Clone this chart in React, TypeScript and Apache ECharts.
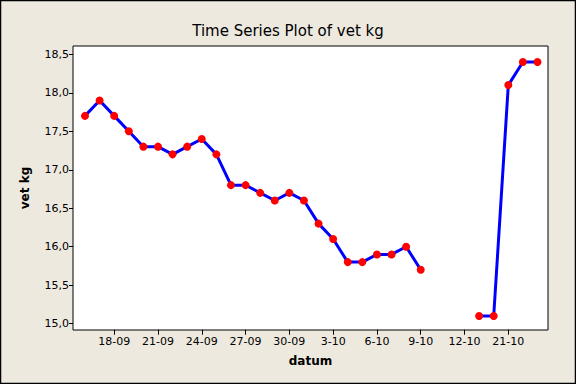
import React, { useEffect, useRef } from "react";
import * as echarts from "echarts";

const dates = [
  "16-09", "17-09", "18-09", "19-09", "20-09", "21-09", "22-09", "23-09",
  "24-09", "25-09", "26-09", "27-09", "28-09", "29-09", "30-09", "1-10",
  "2-10", "3-10", "4-10", "5-10", "6-10", "7-10", "8-10", "9-10",
  "10-10", "11-10", "12-10", "19-10", "20-10", "21-10", "22-10", "23-10",
];

const vetKg: (number | null)[] = [
  17.7, 17.9, 17.7, 17.5, 17.3, 17.3, 17.2, 17.3,
  17.4, 17.2, 16.8, 16.8, 16.7, 16.6, 16.7, 16.6,
  16.3, 16.1, 15.8, 15.8, 15.9, 15.9, 16.0, 15.7,
  null, null, null, 15.1, 15.1, 18.1, 18.4, 18.4,
];

const yMin = 15;
const yMax = 18.5;
const yStep = 0.5;

const titleText = "Time Series Plot of vet kg";
const xName = "datum";
const yName = "vet kg";

const FONT = "DejaVu Sans";

export default function App() {
  const ref = useRef<HTMLDivElement>(null);

  useEffect(() => {
    if (!ref.current) return;
    const chart = echarts.init(ref.current, undefined, { renderer: "svg" });
    const showIdx = (i: number) => i >= 2 && (i - 2) % 3 === 0;
    chart.setOption({
      animation: false,
      backgroundColor: "#EDE9DF",
      title: {
        text: titleText,
        left: "center",
        top: 18,
        textStyle: { fontFamily: FONT, fontSize: 15, fontWeight: "normal", color: "#000" },
      },
      grid: [
        {
          left: 73, top: 46, width: 475, height: 284,
          show: true, backgroundColor: "#FFFFFF", borderColor: "#000", borderWidth: 1,
        },
        { left: 85, right: 38.5, top: 54.3, bottom: 60.3 },
      ],
      xAxis: [
        { gridIndex: 0, type: "value", show: false, min: 0, max: 1 },
        {
          gridIndex: 1,
          type: "category",
          data: dates,
          boundaryGap: false,
          offset: 6,
          axisLine: { show: false },
          axisTick: { show: true, length: 5, interval: (i: number) => showIdx(i), lineStyle: { color: "#000" } },
          axisLabel: {
            interval: (i: number) => showIdx(i),
            fontFamily: FONT, fontSize: 11, color: "#000", margin: 6,
          },
          splitLine: { show: false },
        },
      ],
      yAxis: [
        { gridIndex: 0, type: "value", show: false, min: 0, max: 1 },
        {
          gridIndex: 1,
          type: "value",
          min: yMin,
          max: yMax,
          interval: yStep,
          offset: 12,
          axisLine: { show: false },
          axisTick: { show: true, length: 4, lineStyle: { color: "#000" } },
          axisLabel: {
            fontFamily: FONT, fontSize: 11, color: "#000", margin: 4,
            formatter: (v: number) => v.toFixed(1).replace(".", ","),
          },
          splitLine: { show: false },
        },
      ],
      graphic: [
        {
          type: "rect",
          shape: { x: 0.5, y: 0.5, width: 575, height: 383 },
          style: { fill: "none", stroke: "#000", lineWidth: 1.5 },
          silent: true,
        },
        {
          type: "text",
          x: 310.5, y: 361,
          style: { text: xName, font: `bold 12px "${FONT}"`, fill: "#000", align: "center", verticalAlign: "middle" },
        },
        {
          type: "text",
          x: 25, y: 188, rotation: Math.PI / 2,
          style: { text: yName, font: `bold 12px "${FONT}"`, fill: "#000", align: "center", verticalAlign: "middle" },
        },
      ],
      series: [
        {
          type: "line",
          xAxisIndex: 1,
          yAxisIndex: 1,
          data: vetKg,
          connectNulls: false,
          symbol: "circle",
          symbolSize: 8,
          showSymbol: true,
          showAllSymbol: true,
          lineStyle: { color: "#0000FF", width: 3 },
          itemStyle: { color: "#FF0000", borderWidth: 0 },
          z: 3,
        },
      ],
    });
    return () => chart.dispose();
  }, []);

  return (
    <div
      ref={ref}
      style={{ position: "fixed", left: 0, top: 0, width: 576, height: 384 }}
    />
  );
}
